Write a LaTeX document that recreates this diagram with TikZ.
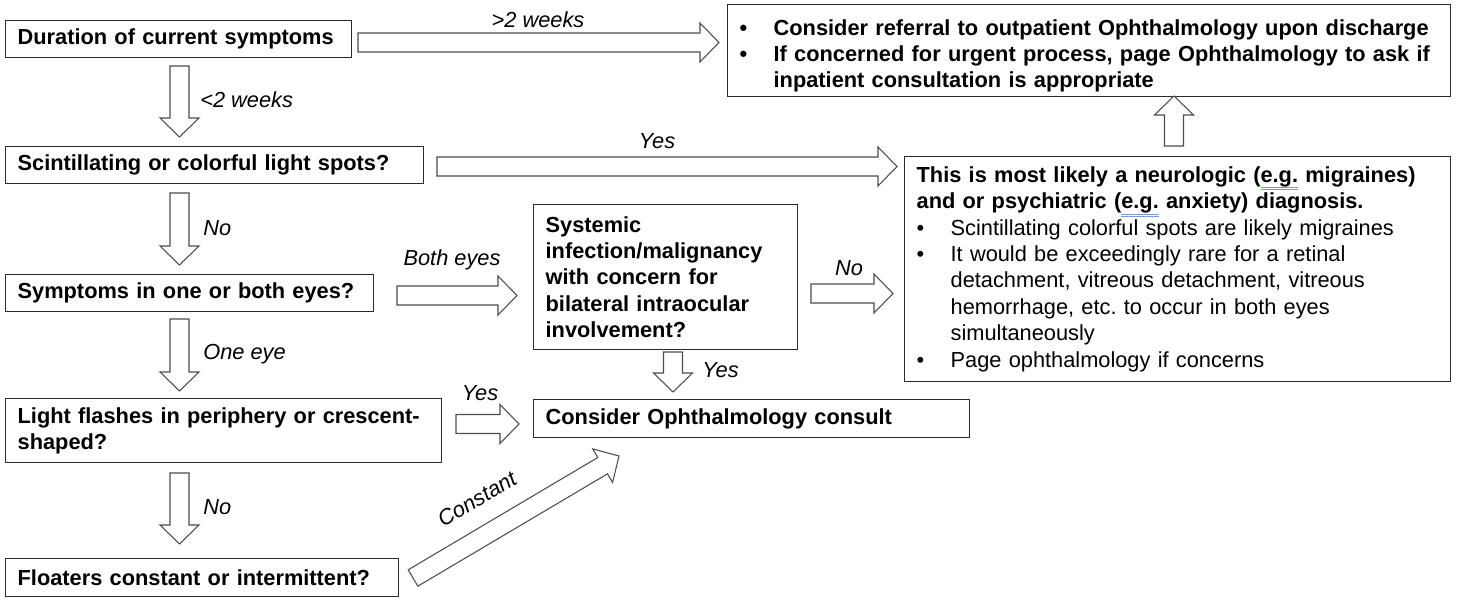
\documentclass[tikz,border=0pt]{standalone}
\usepackage{fontspec}
\setmainfont{Liberation Sans}
\usetikzlibrary{calc}
\frenchspacing

\definecolor{boxline}{HTML}{2B2B2B}
\definecolor{arrowline}{HTML}{4D4D4D}
\definecolor{spellblue}{HTML}{7A9BDD}

% blue double underline under a word
\newcommand{\spellmark}[1]{\setbox0=\hbox{#1}%
  \rlap{\textcolor{spellblue}{\rule[-3.2pt]{\wd0}{0.5pt}}}%
  \rlap{\textcolor{spellblue}{\rule[-4.4pt]{\wd0}{0.5pt}}}\box0\relax}
% bullet line and its indented continuation
\newcommand{\flowitem}[1]{\par\noindent\makebox[6.8mm][l]{\textbullet}#1}
\newcommand{\flowcont}[1]{\par\noindent\hspace*{6.8mm}#1}

\begin{document}
\begin{tikzpicture}[x=0.2mm,y=-0.2mm]
\tikzset{
  flowbox/.style={draw=boxline,line width=0.75pt,anchor=north west,align=left,
    inner xsep=2.4mm,inner ysep=0pt,font=\fontsize{12.4}{15}\selectfont\bfseries},
  branchlabel/.style={inner sep=0pt,font=\fontsize{12.4}{15}\selectfont\itshape},
  fatarrow/.style={draw=arrowline,fill=white,line width=0.6pt,line join=miter,
    to path={let \p1=($(\tikztotarget)!3.8mm!(\tikztostart)$) in
      ($(\tikztostart)!1.9mm!90:(\tikztotarget)$) -- ($(\p1)!1.9mm!-90:(\tikztostart)$)
      -- ($(\p1)!3.9mm!-90:(\tikztostart)$) -- (\tikztotarget)
      -- ($(\p1)!3.9mm!90:(\tikztostart)$) -- ($(\p1)!1.9mm!90:(\tikztostart)$)
      -- ($(\tikztostart)!1.9mm!-90:(\tikztotarget)$) -- cycle}}
}
\useasboundingbox (0,0) rectangle (1468,606);

% boxes
\node[flowbox,minimum width=69.2mm,minimum height=7.4mm,text width=64.4mm] (n_duration) at (5,20) {Duration of current symptoms};
\node[flowbox,minimum width=83.6mm,minimum height=7.4mm,text width=78.8mm] (n_scint) at (5,146) {Scintillating or colorful light spots?};
\node[flowbox,minimum width=73.6mm,minimum height=7.4mm,text width=68.8mm] (n_eyes) at (5,274) {Symptoms in one or both eyes?};
\node[flowbox,minimum width=87.2mm,minimum height=12.8mm,text width=82.4mm] (n_flash) at (5,398) {Light flashes in periphery or crescent-\\shaped?};
\node[flowbox,minimum width=78.6mm,minimum height=7.6mm,text width=73.8mm] (n_floaters) at (5,558) {Floaters constant or intermittent?};
\node[flowbox,minimum width=52.8mm,minimum height=29mm,text width=48mm] (n_systemic) at (533,204) {Systemic\\infection/malignancy\\with concern for\\bilateral intraocular\\involvement?};
\node[flowbox,minimum width=87.2mm,minimum height=7.6mm,text width=82.4mm] (n_consult) at (533,399) {Consider Ophthalmology consult};
\node[flowbox,minimum width=144.6mm,minimum height=18.4mm,text width=139.8mm] (n_referral) at (727,4) {%
  \flowitem{Consider referral to outpatient Ophthalmology upon discharge}
  \flowitem{If concerned for urgent process, page Ophthalmology to ask if}
  \flowcont{inpatient consultation is appropriate}};
\node[flowbox,minimum width=109.2mm,minimum height=45mm,text width=104.4mm] (n_neuro) at (904,156) {%
  This is most likely a neurologic (\spellmark{e.g.} migraines)\\and or psychiatric (\spellmark{e.g.} anxiety) diagnosis.\mdseries
  \flowitem{Scintillating colorful spots are likely migraines}
  \flowitem{It would be exceedingly rare for a retinal}
  \flowcont{detachment, vitreous detachment, vitreous}
  \flowcont{hemorrhage, etc. to occur in both eyes}
  \flowcont{simultaneously}
  \flowitem{Page ophthalmology if concerns}};

% arrow ends
\coordinate (a_dur_s) at (179.5,66);   \coordinate (a_dur_e) at (179.5,137);
\coordinate (a_long_s) at (358,42.5);  \coordinate (a_long_e) at (719,42.5);
\coordinate (a_yes_s) at (437,166.5);  \coordinate (a_yes_e) at (897,166.5);
\coordinate (a_no_s) at (179.5,193);   \coordinate (a_no_e) at (179.5,265);
\coordinate (a_one_s) at (179.5,319);  \coordinate (a_one_e) at (179.5,391);
\coordinate (a_flno_s) at (179.5,473); \coordinate (a_flno_e) at (179.5,544);
\coordinate (a_both_s) at (397,295.5); \coordinate (a_both_e) at (517,295.5);
\coordinate (a_sysno_s) at (811,293.5);\coordinate (a_sysno_e) at (893,293.5);
\coordinate (a_sysyes_s) at (673,352); \coordinate (a_sysyes_e) at (673,392);
\coordinate (a_flyes_s) at (456,424);  \coordinate (a_flyes_e) at (519,424);
\coordinate (a_const_s) at (413,578);  \coordinate (a_const_e) at (619,456);
\coordinate (a_up_s) at (1174,146);    \coordinate (a_up_e) at (1174,96);

\draw[fatarrow] (a_dur_s) to (a_dur_e);
\draw[fatarrow] (a_long_s) to (a_long_e);
\draw[fatarrow] (a_yes_s) to (a_yes_e);
\draw[fatarrow] (a_no_s) to (a_no_e);
\draw[fatarrow] (a_one_s) to (a_one_e);
\draw[fatarrow] (a_flno_s) to (a_flno_e);
\draw[fatarrow] (a_both_s) to (a_both_e);
\draw[fatarrow] (a_sysno_s) to (a_sysno_e);
\draw[fatarrow] (a_sysyes_s) to (a_sysyes_e);
\draw[fatarrow] (a_flyes_s) to (a_flyes_e);
\draw[fatarrow] (a_const_s) to (a_const_e);
\draw[fatarrow] (a_up_s) to (a_up_e);

% labels
\node[branchlabel,anchor=west] (l_short) at (200,100) {<2 weeks};
\node[branchlabel] (l_long) at (538,20) {>2 weeks};
\node[branchlabel] (l_yes1) at (657,141) {Yes};
\node[branchlabel,anchor=west] (l_no1) at (203,228) {No};
\node[branchlabel,anchor=west] (l_one) at (203,354) {One eye};
\node[branchlabel,anchor=west] (l_no2) at (203,507) {No};
\node[branchlabel] (l_both) at (452,260) {Both eyes};
\node[branchlabel] (l_no3) at (849,268) {No};
\node[branchlabel,anchor=west] (l_yes2) at (702,370) {Yes};
\node[branchlabel] (l_yes3) at (480,393) {Yes};
\node[branchlabel,rotate=31] (l_const) at (477,499) {Constant};
\end{tikzpicture}
\end{document}
